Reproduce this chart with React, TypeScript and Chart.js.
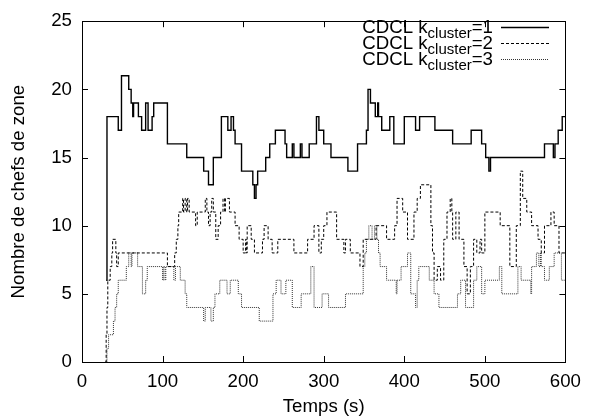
import React, { useEffect, useRef } from 'react';
import { Chart, registerables } from 'chart.js';

Chart.register(...registerables);

// ---------- data ----------
const X_TICKS = [0, 100, 200, 300, 400, 500, 600];
const Y_TICKS = [0, 5, 10, 15, 20, 25];
const X_TITLE = 'Temps (s)';
const Y_TITLE = 'Nombre de chefs de zone';
const LEGEND_PREFIX = 'CDCL k';
const LEGEND_SUB = 'cluster';
const LEGEND_SUFFIX = ['=1', '=2', '=3'];

// k_cluster = 1 (solid): change times and values
const T1 = [30, 31, 45, 49, 58, 61, 63, 64, 70, 74, 79, 82, 87, 89, 106, 130, 151, 157, 163, 173, 181, 185, 188, 190, 198, 212, 214, 216, 218, 228, 233, 240, 252, 254, 261, 263, 271, 273, 282, 291, 294, 300, 309, 330, 342, 353, 355, 358, 364, 367, 368, 372, 382, 387, 400, 414, 419, 438, 460, 483, 496, 501, 505, 507, 574, 585, 587, 591, 596, 600];
const V1 = [6, 18, 17, 21, 20, 19, 18, 19, 18, 17, 19, 17, 18, 19, 16, 15, 14, 13, 15, 18, 17, 18, 17, 16, 14, 13, 12, 13, 14, 15, 16, 17, 16, 15, 16, 15, 16, 15, 16, 18, 17, 16, 15, 14, 16, 17, 20, 19, 18, 19, 18, 17, 18, 16, 18, 17, 18, 17, 16, 17, 16, 15, 14, 15, 16, 15, 16, 17, 18, 18];

// k_cluster = 2 (dashed)
const T2 = [29, 30, 31, 32, 35, 37, 38, 42, 43, 45, 106, 115, 117, 119, 120, 125, 126, 128, 130, 131, 133, 141, 143, 153, 155, 157, 159, 161, 163, 166, 169, 172, 175, 177, 178, 183, 190, 195, 200, 203, 204, 205, 210, 214, 224, 226, 231, 236, 243, 263, 280, 288, 294, 297, 300, 304, 316, 325, 327, 333, 345, 349, 365, 378, 388, 391, 398, 404, 412, 416, 420, 433, 435, 437, 441, 445, 449, 453, 457, 459, 460, 464, 468, 474, 478, 482, 486, 490, 494, 496, 500, 519, 531, 539, 544, 547, 552, 558, 566, 570, 574, 582, 586, 592, 600];
const V2 = [0, 2, 4, 6, 7, 8, 9, 8, 7, 8, 7, 8, 9, 10, 11, 12, 11, 12, 11, 12, 11, 10, 11, 12, 11, 10, 11, 12, 11, 9, 10, 11, 12, 11, 12, 11, 10, 9, 8, 9, 8, 10, 9, 8, 9, 10, 9, 8, 9, 8, 9, 10, 8, 9, 10, 11, 9, 8, 9, 8, 7, 9, 10, 9, 10, 12, 11, 9, 11, 12, 13, 10, 8, 6, 7, 6, 9, 11, 12, 11, 9, 11, 9, 7, 5, 7, 9, 8, 9, 8, 11, 10, 7, 10, 14, 12, 11, 10, 9, 8, 10, 11, 10, 8, 8];

// k_cluster = 3 (dotted)
const T3 = [29, 31, 33, 39, 41, 43, 45, 55, 58, 61, 62, 69, 75, 79, 81, 100, 101, 103, 104, 114, 116, 122, 128, 130, 151, 153, 160, 163, 165, 171, 180, 184, 194, 198, 220, 237, 241, 247, 253, 261, 272, 284, 288, 298, 306, 327, 349, 351, 353, 356, 360, 363, 366, 368, 370, 372, 378, 390, 391, 396, 404, 408, 414, 416, 418, 431, 437, 443, 466, 470, 476, 486, 490, 496, 500, 518, 521, 541, 545, 557, 558, 564, 567, 569, 570, 574, 580, 586, 595, 600];
const V3 = [0, 1, 2, 3, 4, 5, 6, 7, 8, 7, 8, 7, 5, 6, 7, 6, 7, 6, 7, 6, 7, 6, 5, 4, 3, 4, 3, 4, 5, 6, 5, 6, 5, 4, 3, 5, 6, 5, 6, 4, 5, 7, 4, 5, 4, 5, 7, 8, 9, 10, 9, 10, 9, 8, 7, 7, 6, 5, 6, 7, 8, 5, 4, 6, 7, 6, 5, 4, 5, 6, 4, 6, 7, 5, 6, 7, 5, 7, 6, 5, 7, 8, 7, 8, 7, 6, 7, 8, 6, 6];

const FONT_FAMILY = '"Liberation Sans", Arial, Helvetica, sans-serif';
const FONT_SIZE = 18.67;

const toPoints = (t: number[], v: number[]) => t.map((x, i) => ({ x, y: v[i] }));

const frameAndLegend = {
  id: 'frameAndLegend',
  afterDraw(chart: any) {
    const { ctx, chartArea } = chart;
    const { left, right, top, bottom } = chartArea;
    const xs = chart.scales.x;
    const ys = chart.scales.y;
    ctx.save();
    ctx.strokeStyle = '#000';
    ctx.lineWidth = 1;
    ctx.setLineDash([]);
    ctx.strokeRect(Math.round(left) + 0.5, Math.round(top) + 0.5, Math.round(right - left), Math.round(bottom - top));
    const tl = 6;
    ctx.beginPath();
    X_TICKS.forEach((v) => {
      const px = Math.round(xs.getPixelForValue(v)) + 0.5;
      ctx.moveTo(px, bottom);
      ctx.lineTo(px, bottom - tl);
      ctx.moveTo(px, top);
      ctx.lineTo(px, top + tl);
    });
    Y_TICKS.forEach((v) => {
      const py = Math.round(ys.getPixelForValue(v)) + 0.5;
      ctx.moveTo(left, py);
      ctx.lineTo(left + tl, py);
      ctx.moveTo(right, py);
      ctx.lineTo(right - tl, py);
    });
    ctx.stroke();

    // legend
    const mainFont = `${FONT_SIZE}px ${FONT_FAMILY}`;
    const subFont = `15px ${FONT_FAMILY}`;
    const textRight = 493;
    const lineX0 = 501;
    const lineX1 = 549;
    const baseline0 = 33;
    const rowH = 16;
    chart.data.datasets.forEach((ds: any, i: number) => {
      const base = baseline0 + i * rowH;
      ctx.font = mainFont;
      const w1 = ctx.measureText(LEGEND_PREFIX).width;
      const w3 = ctx.measureText(LEGEND_SUFFIX[i]).width;
      ctx.font = subFont;
      const w2 = ctx.measureText(LEGEND_SUB).width;
      let x = textRight - (w1 + w2 + w3);
      ctx.fillStyle = '#000';
      ctx.textBaseline = 'alphabetic';
      ctx.textAlign = 'left';
      ctx.font = mainFont;
      ctx.fillText(LEGEND_PREFIX, x, base);
      x += w1;
      ctx.font = subFont;
      ctx.fillText(LEGEND_SUB, x, base + 5);
      x += w2;
      ctx.font = mainFont;
      ctx.fillText(LEGEND_SUFFIX[i], x, base);
      ctx.beginPath();
      ctx.strokeStyle = ds.borderColor;
      ctx.lineWidth = ds.borderWidth;
      ctx.setLineDash(ds.borderDash || []);
      const ly = Math.round(base - 6) + 0.5;
      ctx.moveTo(lineX0, ly);
      ctx.lineTo(lineX1, ly);
      ctx.stroke();
    });
    ctx.restore();
  },
};

export default function App() {
  const canvasRef = useRef<HTMLCanvasElement | null>(null);

  useEffect(() => {
    const canvas = canvasRef.current;
    if (!canvas) return;
    const tickFont = { family: FONT_FAMILY, size: FONT_SIZE };
    const chart = new Chart(canvas, {
      type: 'line',
      data: {
        datasets: [
          {
            label: 'k1',
            data: toPoints(T1, V1),
            borderColor: '#000',
            borderWidth: 1.4,
            stepped: 'before',
            pointRadius: 0,
            fill: false,
          },
          {
            label: 'k2',
            data: toPoints(T2, V2),
            borderColor: '#000',
            borderWidth: 1,
            borderDash: [3, 2],
            stepped: 'before',
            pointRadius: 0,
            fill: false,
          },
          {
            label: 'k3',
            data: toPoints(T3, V3),
            borderColor: '#333',
            borderWidth: 1,
            borderDash: [1, 1],
            stepped: 'before',
            pointRadius: 0,
            fill: false,
          },
        ],
      },
      options: {
        responsive: false,
        animation: false,
        devicePixelRatio: 1,
        layout: { padding: { left: 0, top: 17, right: 19, bottom: 0 } },
        plugins: { legend: { display: false }, tooltip: { enabled: false } },
        scales: {
          x: {
            type: 'linear',
            min: 0,
            max: 600,
            afterBuildTicks: (s: any) => {
              s.ticks = X_TICKS.map((value) => ({ value }));
            },
            afterFit: (s: any) => {
              s.height = 57;
            },
            grid: { display: false, drawTicks: false },
            border: { display: false },
            ticks: { color: '#000', font: tickFont, padding: 9, maxRotation: 0, autoSkip: false },
            title: { display: true, text: X_TITLE, color: '#000', font: tickFont, padding: { top: 0, bottom: 1 } },
          },
          y: {
            type: 'linear',
            min: 0,
            max: 25,
            afterBuildTicks: (s: any) => {
              s.ticks = Y_TICKS.map((value) => ({ value }));
            },
            afterFit: (s: any) => {
              s.width = 82;
            },
            grid: { display: false, drawTicks: false },
            border: { display: false },
            ticks: { color: '#000', font: tickFont, padding: 10, autoSkip: false },
            title: { display: true, text: Y_TITLE, color: '#000', font: tickFont, padding: { top: 8, bottom: 0 } },
          },
        },
      },
      plugins: [frameAndLegend],
    });
    return () => chart.destroy();
  }, []);

  return (
    <div style={{ position: 'absolute', left: 0, top: 0, width: 590, height: 419, background: '#fff' }}>
      <canvas ref={canvasRef} width={590} height={419} style={{ display: 'block', width: 590, height: 419 }} />
    </div>
  );
}
